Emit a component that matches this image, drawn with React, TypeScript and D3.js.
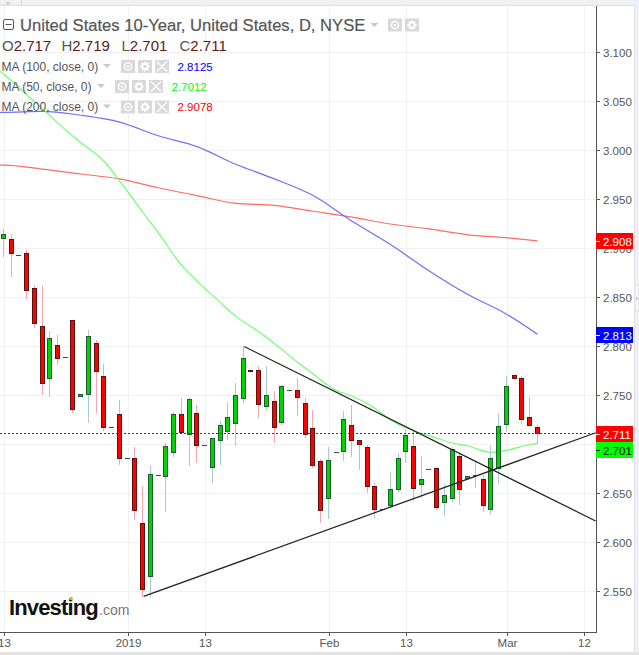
import React from 'react';
import * as d3 from 'd3';

// one entry per trading day
const opens = [2.910, 2.909, 2.893, 2.895, 2.859, 2.820, 2.767, 2.801, 2.789, 2.827,
  2.749, 2.751, 2.803, 2.769, 2.717, 2.731, 2.686, 2.686, 2.619, 2.565,
  2.668, 2.667, 2.692, 2.731, 2.710, 2.732, 2.699, 2.677, 2.704, 2.713,
  2.721, 2.747, 2.776, 2.776, 2.739, 2.744, 2.722, 2.755, 2.755, 2.742,
  2.716, 2.683, 2.645, 2.692, 2.693, 2.719, 2.704, 2.697, 2.657, 2.634,
  2.638, 2.654, 2.693, 2.698, 2.659, 2.674, 2.676, 2.641, 2.645, 2.688,
  2.665, 2.668, 2.664, 2.634, 2.676, 2.720, 2.770, 2.767, 2.728, 2.717];
const highs = [2.919, 2.914, 2.893, 2.898, 2.862, 2.862, 2.815, 2.811, 2.789, 2.827,
  2.751, 2.816, 2.806, 2.782, 2.717, 2.745, 2.686, 2.697, 2.657, 2.679,
  2.668, 2.701, 2.733, 2.747, 2.747, 2.740, 2.699, 2.706, 2.723, 2.743,
  2.762, 2.800, 2.776, 2.780, 2.780, 2.754, 2.760, 2.755, 2.767, 2.747,
  2.735, 2.685, 2.697, 2.692, 2.734, 2.740, 2.704, 2.699, 2.660, 2.634,
  2.671, 2.691, 2.715, 2.713, 2.688, 2.674, 2.676, 2.659, 2.697, 2.690,
  2.667, 2.683, 2.668, 2.699, 2.732, 2.769, 2.770, 2.769, 2.748, 2.719];
const lows = [2.892, 2.871, 2.893, 2.849, 2.819, 2.751, 2.749, 2.782, 2.789, 2.733,
  2.749, 2.722, 2.733, 2.714, 2.717, 2.680, 2.686, 2.623, 2.545, 2.544,
  2.668, 2.632, 2.688, 2.712, 2.679, 2.682, 2.699, 2.661, 2.680, 2.705,
  2.699, 2.743, 2.774, 2.728, 2.735, 2.702, 2.720, 2.755, 2.730, 2.707,
  2.677, 2.620, 2.625, 2.692, 2.684, 2.688, 2.674, 2.651, 2.626, 2.634,
  2.636, 2.652, 2.682, 2.643, 2.646, 2.674, 2.634, 2.628, 2.642, 2.639,
  2.665, 2.656, 2.632, 2.629, 2.660, 2.713, 2.767, 2.721, 2.719, 2.701];
const closes = [2.914, 2.895, 2.893, 2.857, 2.823, 2.762, 2.808, 2.788, 2.789, 2.736,
  2.751, 2.810, 2.774, 2.717, 2.717, 2.686, 2.686, 2.633, 2.552, 2.669,
  2.668, 2.698, 2.731, 2.712, 2.746, 2.699, 2.699, 2.706, 2.719, 2.728,
  2.750, 2.788, 2.774, 2.741, 2.750, 2.717, 2.759, 2.755, 2.748, 2.710,
  2.679, 2.633, 2.684, 2.692, 2.726, 2.704, 2.700, 2.657, 2.634, 2.634,
  2.654, 2.686, 2.709, 2.655, 2.664, 2.674, 2.636, 2.648, 2.695, 2.654,
  2.667, 2.668, 2.638, 2.686, 2.718, 2.759, 2.767, 2.725, 2.719, 2.711];

// moving averages, sampled at these bar numbers
const slowDays = [-1, 0, 5, 10, 15, 20, 25, 30, 35, 40, 45, 50, 55, 60, 65, 69];
const ma100 = [3.039, 3.039, 3.040, 3.036, 3.029, 3.015, 3.004, 2.986, 2.971, 2.954, 2.928, 2.904, 2.877, 2.853, 2.833, 2.8125];
const ma200 = [2.985, 2.985, 2.981, 2.976, 2.971, 2.962, 2.954, 2.946, 2.944, 2.938, 2.932, 2.925, 2.920, 2.914, 2.911, 2.9078];
const ma50Days = [-1, 0, 3, 5, 8, 10, 13, 15, 18, 20, 23, 25, 28, 30, 33, 35, 38, 40, 43, 45, 48, 50, 53, 55, 58, 60, 63, 65, 68, 69];
const ma50 = [3.084, 3.078, 3.057, 3.043, 3.021, 3.008, 2.989, 2.969, 2.937, 2.916, 2.883, 2.867, 2.845, 2.831, 2.815,
  2.803, 2.784, 2.772, 2.755, 2.7495, 2.737, 2.725, 2.714, 2.709, 2.7015, 2.6985, 2.692, 2.694, 2.700, 2.7012];

// hand drawn trend lines: [bar, price]
const resistance: [number, number][] = [[31, 2.800], [76.4, 2.622]];
const support: [number, number][] = [[18, 2.545], [76.4, 2.712]];

const priceTicks = [3.1, 3.05, 3.0, 2.95, 2.9, 2.85, 2.8, 2.75, 2.7, 2.65, 2.6, 2.55];
const timeTicks = [0, 16, 26, 42, 52, 65, 75];
const timeLabels = ['13', '2019', '13', 'Feb', '13', 'Mar', '12'];

const studies = [
  { name: 'MA (100, close, 0)', value: '2.8125', color: '#0000ff', base: 70.5, arrow: 103, icons: 121, valueX: 177.5 },
  { name: 'MA (50, close, 0)', value: '2.7012', color: '#00ff00', base: 90.5, arrow: 97, icons: 115, valueX: 171.5 },
  { name: 'MA (200, close, 0)', value: '2.9078', color: '#ff0000', base: 111, arrow: 103, icons: 121, valueX: 177.5 },
];
const ohlc = [['O', '2.717', 2], ['H', '2.719', 61.5], ['L', '2.701', 121.5], ['C', '2.711', 179.5]];

const FONT = '"Liberation Sans", Arial, sans-serif';
const plotRight = 596;
const panelRight = 634;
const axisY = 632;

const x = d3.scaleLinear().domain([0, 75]).range([4.3, 584.8]);
const y = d3.scaleLinear().domain([3.1, 2.5]).range([52.5, 640.5]);
const gridX = (i: number) => Math.floor(x(i)) + 0.5;
const barX = (i: number) => Math.floor(x(i)) - 0.5;
const snapY = (p: number) => Math.floor(y(p)) + 0.5;

const line = d3.line<[number, number]>()
  .x(d => x(d[0]) - 0.8)
  .y(d => y(d[1]))
  .curve(d3.curveMonotoneX);

function Candle({ i }: { i: number }) {
  const o = opens[i];
  const c = closes[i];
  const cx = barX(i);
  const up = c >= o;
  const top = snapY(Math.max(o, c));
  const bottom = snapY(Math.min(o, c));
  return (
    <g>
      {highs[i] !== lows[i] && (
        <line
          x1={cx}
          x2={cx}
          y1={Math.floor(y(highs[i]))}
          y2={Math.floor(y(lows[i])) + 1}
          stroke={up ? '#a5cdd2' : '#f4a6b2'}
        />
      )}
      {o === c ? (
        <line x1={cx - 2.5} x2={cx + 2.5} y1={top} y2={top} stroke="#1c5c30" />
      ) : (
        <rect
          x={cx - 2}
          y={top}
          width={4}
          height={bottom - top}
          fill={up ? '#00d400' : '#ff0000'}
          stroke={up ? '#1c5c30' : '#5c1010'}
        />
      )}
    </g>
  );
}

function Eye({ px, py }: { px: number; py: number }) {
  return (
    <g>
      <rect x={px} y={py} width={14} height={13} fill="#d9d9d9" />
      <circle cx={px + 7} cy={py + 6.5} r={3.6} fill="none" stroke="#fff" strokeWidth={1.4} />
      <circle cx={px + 7} cy={py + 6.5} r={1.2} fill="#fff" />
    </g>
  );
}

function Gear({ px, py }: { px: number; py: number }) {
  const spokes = d3.range(0, 180, 45);
  return (
    <g>
      <rect x={px} y={py} width={14} height={13} fill="#d9d9d9" />
      {spokes.map(a => (
        <line
          key={a}
          x1={px + 7}
          x2={px + 7}
          y1={py + 1.8}
          y2={py + 11.2}
          stroke="#fff"
          strokeWidth={1.8}
          transform={`rotate(${a} ${px + 7} ${py + 6.5})`}
        />
      ))}
      <circle cx={px + 7} cy={py + 6.5} r={2.6} fill="#d9d9d9" stroke="#fff" strokeWidth={1.6} />
    </g>
  );
}

function Cross({ px, py }: { px: number; py: number }) {
  return (
    <g stroke="#fff" strokeWidth={1.3}>
      <rect x={px} y={py} width={14} height={13} fill="#d9d9d9" stroke="none" />
      <line x1={px + 2} x2={px + 12} y1={py + 1.5} y2={py + 11.5} />
      <line x1={px + 12} x2={px + 2} y1={py + 1.5} y2={py + 11.5} />
    </g>
  );
}

function Arrow({ px, py }: { px: number; py: number }) {
  return <path d={`M${px} ${py}h8l-4 4z`} fill="#c9c9c9" />;
}

function PriceTag({ p, shownAt, fill, text }: { p: string; shownAt: number; fill: string; text: string }) {
  return (
    <g>
      <rect x={plotRight} y={shownAt - 8} width={panelRight - plotRight - 1} height={16} fill={fill} />
      <line x1={plotRight} x2={plotRight + 4} y1={shownAt + 0.5} y2={shownAt + 0.5} stroke={text} />
      <text x={603} y={shownAt + 4.5} fontSize={11.5} fill={text}>{p}</text>
    </g>
  );
}

export default function App() {
  const bars = d3.range(opens.length);
  return (
    <svg
      width={639}
      height={655}
      style={{ position: 'absolute', left: 0, top: 0, display: 'block', background: '#fff' }}
      fontFamily={FONT}
    >
      {/* grid */}
      {priceTicks.map(t => (
        <line key={t} x1={0} x2={plotRight} y1={y(t)} y2={y(t)} stroke="#f1f1f1" />
      ))}
      {timeTicks.map(t => (
        <line key={t} x1={gridX(t)} x2={gridX(t)} y1={6} y2={axisY} stroke="#f1f1f1" />
      ))}

      {/* moving averages */}
      <path d={line(slowDays.map((d, i) => [d, ma200[i]]) as [number, number][]) ?? ''} fill="none" stroke="#ff6a6a" strokeWidth={1.2} />
      <path d={line(slowDays.map((d, i) => [d, ma100[i]]) as [number, number][]) ?? ''} fill="none" stroke="#6e6eff" strokeWidth={1.2} />
      <path d={line(ma50Days.map((d, i) => [d, ma50[i]]) as [number, number][]) ?? ''} fill="none" stroke="#70ff70" strokeWidth={1.2} />

      {/* candles */}
      {bars.map(i => <Candle key={i} i={i} />)}

      {/* last price */}
      <line x1={0} x2={plotRight} y1={snapY(closes[69])} y2={snapY(closes[69])} stroke="#c80000" strokeDasharray="2 2" />

      {/* trend lines */}
      {[resistance, support].map((t, i) => (
        <line
          key={i}
          x1={x(t[0][0])}
          y1={y(t[0][1])}
          x2={x(t[1][0])}
          y2={y(t[1][1])}
          stroke="#222"
          strokeWidth={1.25}
        />
      ))}

      {/* header */}
      <rect x={3.5} y={19.5} width={10} height={10} rx={1.5} fill="#fff" stroke="#555" />
      <line x1={5.5} x2={11.5} y1={24.5} y2={24.5} stroke="#555" />
      <text x={20} y={30.5} fontSize={16.6} fill="#555" stroke="#555" strokeWidth={0.2}>
        United States 10-Year, United States, D, NYSE
      </text>
      <Arrow px={370.5} py={23} />
      <Eye px={388} py={18.5} />
      <Gear px={405} py={18.5} />
      {ohlc.map(([k, v, px]) => (
        <text key={k as string} x={px as number} y={51} fontSize={15} fill="#555">
          {k}
          <tspan fill="#5c1a1a">{v}</tspan>
        </text>
      ))}
      {studies.map(s => (
        <g key={s.name}>
          <text x={1.5} y={s.base} fontSize={12} fill="#555">{s.name}</text>
          <Arrow px={s.arrow} py={s.base - 6.5} />
          <Eye px={s.icons} py={s.base - 10.5} />
          <Gear px={s.icons + 17} py={s.base - 10.5} />
          <Cross px={s.icons + 34} py={s.base - 10.5} />
          <text x={s.valueX} y={s.base} fontSize={11.5} fill={s.color}>{s.value}</text>
        </g>
      ))}

      {/* price axis */}
      <line x1={plotRight + 0.5} x2={plotRight + 0.5} y1={6} y2={axisY + 1} stroke="#555" />
      {priceTicks.map(t => (
        <g key={t}>
          <line x1={plotRight} x2={plotRight + 4} y1={y(t)} y2={y(t)} stroke="#555" />
          <text x={603} y={y(t) + 4.5} fontSize={11.5} fill="#555">{t.toFixed(3)}</text>
        </g>
      ))}
      <PriceTag p="2.908" shownAt={241} fill="#ff0000" text="#fff" />
      <PriceTag p="2.813" shownAt={335} fill="#0000ff" text="#fff" />
      <PriceTag p="2.711" shownAt={434} fill="#ff0000" text="#fff" />
      <PriceTag p="2.701" shownAt={450} fill="#00ff00" text="#000" />

      {/* time axis */}
      <line x1={0} x2={plotRight + 1} y1={axisY + 0.5} y2={axisY + 0.5} stroke="#555" />
      {timeTicks.map((t, i) => (
        <g key={t}>
          <line x1={gridX(t)} x2={gridX(t)} y1={axisY} y2={axisY + 4} stroke="#555" />
          <text x={gridX(t)} y={647} fontSize={11.5} fill="#555" textAnchor="middle">{timeLabels[i]}</text>
        </g>
      ))}

      {/* logo */}
      <text x={9} y={614.5} fontSize={22} fontWeight="bold" fill="#111" letterSpacing={-0.85}>Investing</text>
      <text x={99} y={614.5} fontSize={14} fill="#777">.com</text>
      <circle cx={71} cy={598.5} r={1.8} fill="#f5a623" />

      {/* page chrome */}
      <rect x={0} y={0} width={639} height={5} fill="#eef0f5" />
      <line x1={0} x2={panelRight} y1={5.5} y2={5.5} stroke="#dfe1e5" />
      <line x1={21.5} x2={21.5} y1={0} y2={5} stroke="#d5d7dc" />
      <path d="M5 4.5l3-3 3 3z" fill="#c9ccd2" />
      <rect x={panelRight} y={0} width={5} height={655} fill="#eef0f5" />
      <line x1={panelRight + 0.5} x2={panelRight + 0.5} y1={5} y2={652} stroke="#dfe1e5" />
      <rect x={panelRight + 1} y={285} width={4} height={26} fill="#f7f8fa" stroke="#dfe1e5" />
      <path d="M636 296l2.5 2.5-2.5 2.5z" fill="#c9ccd2" />
      <rect x={0} y={652} width={639} height={3} fill="#e4e4e4" />
    </svg>
  );
}
